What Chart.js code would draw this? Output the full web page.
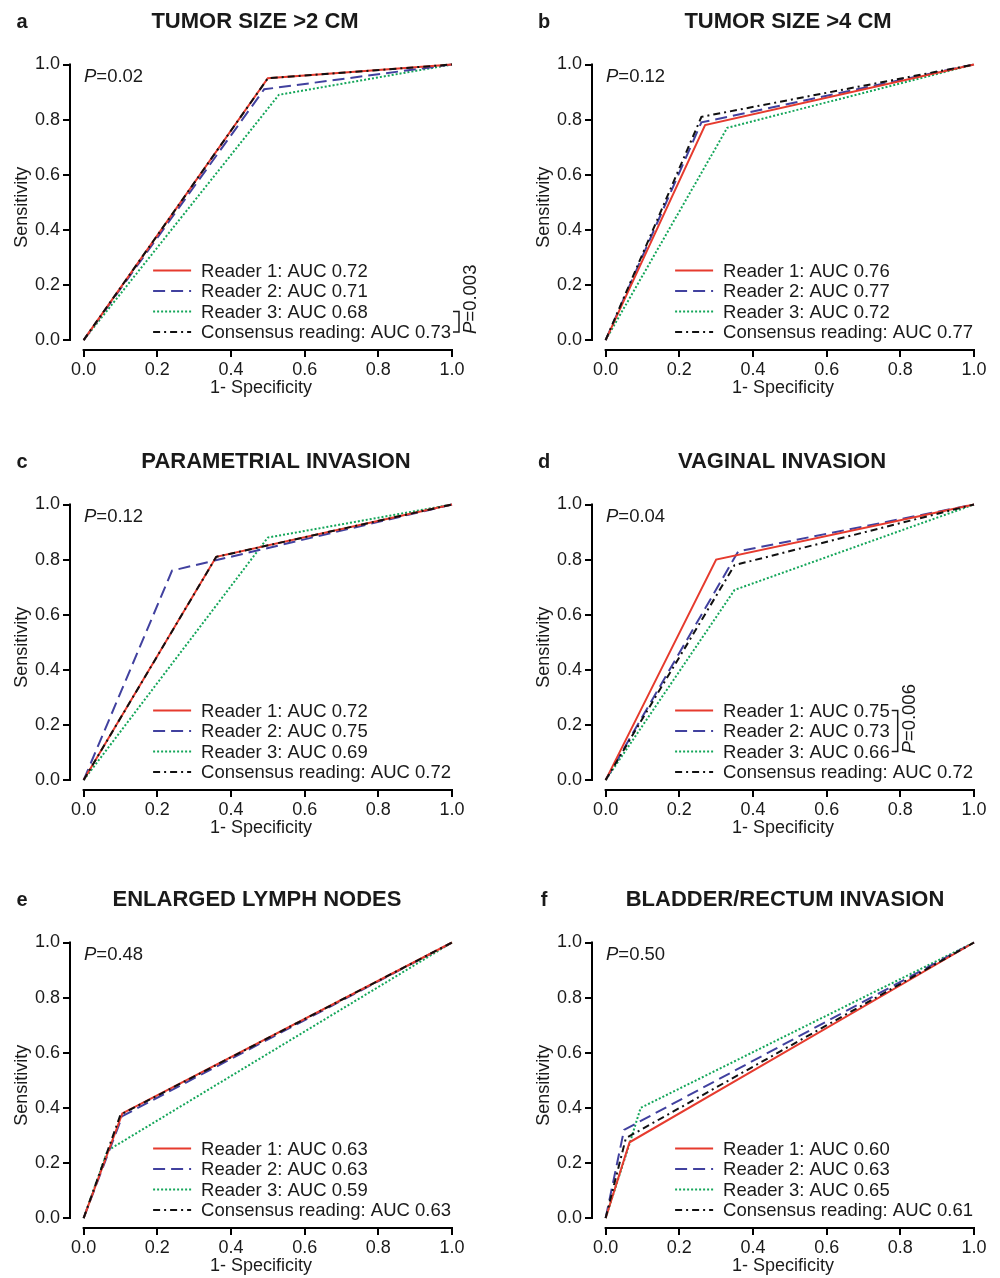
<!DOCTYPE html>
<html>
<head>
<meta charset="utf-8">
<title>ROC curves</title>
<script src="https://cdn.jsdelivr.net/npm/chart.js@4.4.1/dist/chart.umd.min.js"></script>
<style>
	body { margin: 0; background: #fff; }
	#wrap { position: relative; width: 1000px; height: 1278px; }
	#wrap canvas { position: absolute; }
</style>
</head>
<body>
<div id="wrap"></div>
<script>
/*------------data-------------------------------------------------------------------*/
const letters = ['a', 'b', 'c', 'd', 'e', 'f'];
const titles = ['TUMOR SIZE >2 CM', 'TUMOR SIZE >4 CM', 'PARAMETRIAL INVASION', 'VAGINAL INVASION', 'ENLARGED LYMPH NODES', 'BLADDER/RECTUM INVASION'];
const pValues = ['0.02', '0.12', '0.12', '0.04', '0.48', '0.50'];
const readers = ['Reader 1', 'Reader 2', 'Reader 3', 'Consensus reading'];
const aucValues = [
	[0.72, 0.71, 0.68, 0.73],
	[0.76, 0.77, 0.72, 0.77],
	[0.72, 0.75, 0.69, 0.72],
	[0.75, 0.73, 0.66, 0.72],
	[0.63, 0.63, 0.59, 0.63],
	[0.60, 0.63, 0.65, 0.61]
];
const tickValues = [0, 0.2, 0.4, 0.6, 0.8, 1.0];

// 1-specificity / sensitivity : reader 1, reader 2, reader 3, consensus
const fprA = [[0, 0.50, 1], [0, 0.49, 1], [0, 0.53, 1], [0, 0.50, 1]];
const tprA = [[0, 0.95, 1], [0, 0.91, 1], [0, 0.89, 1], [0, 0.95, 1]];
const fprB = [[0, 0.27, 1], [0, 0.26, 1], [0, 0.33, 1], [0, 0.26, 1]];
const tprB = [[0, 0.78, 1], [0, 0.79, 1], [0, 0.77, 1], [0, 0.81, 1]];
const fprC = [[0, 0.36, 1], [0, 0.24, 1], [0, 0.50, 1], [0, 0.36, 1]];
const tprC = [[0, 0.81, 1], [0, 0.76, 1], [0, 0.88, 1], [0, 0.81, 1]];
const fprD = [[0, 0.30, 1], [0, 0.36, 1], [0, 0.35, 1], [0, 0.35, 1]];
const tprD = [[0, 0.80, 1], [0, 0.83, 1], [0, 0.69, 1], [0, 0.78, 1]];
const fprE = [[0, 0.105, 1], [0, 0.105, 1], [0, 0.065, 1], [0, 0.10, 1]];
const tprE = [[0, 0.38, 1], [0, 0.37, 1], [0, 0.245, 1], [0, 0.375, 1]];
const fprF = [[0, 0.065, 1], [0, 0.05, 1], [0, 0.065, 0.095, 1], [0, 0.055, 1]];
const tprF = [[0, 0.275, 1], [0, 0.32, 1], [0, 0.27, 0.40, 1], [0, 0.29, 1]];

// pairwise P brackets next to the legend
const bracketPanel = [0, 3];
const bracketRows = [[2, 3], [0, 2]];
const bracketP = ['0.003', '0.006'];

/*------------style-------------------------------------------------------------------*/
const fam = '"Liberation Sans", Arial, Helvetica, sans-serif';
const textColor = '#1a1a1a';
const lineColors = ['#e63b2e', '#41419f', '#14a65a', '#111111'];
const lineDashes = [[], [12, 6], [2, 2], [7, 4, 2, 4]];
const drawOrder = [1, 2, 3, 0];

const fprAll = [fprA, fprB, fprC, fprD, fprE, fprF];
const tprAll = [tprA, tprB, tprC, tprD, tprE, tprF];

const rowTop = [0, 440, 878];
const rowHeight = [440, 438, 400];
const colLeft = [0, 500];
const axisLeft = [70, 92];
const plotRight = [452, 474];
const titleCenter = [255, 288, 276, 282, 257, 285];

/* 축선, 제목, 범례, P 값 */
const decorPlugin = {
	id: 'decor',
	afterDraw(chart, args, opts) {
		const ctx = chart.ctx;
		const area = chart.chartArea;
		const xs = chart.scales.x, ys = chart.scales.y;
		ctx.save();

		// offset axis lines (0 to 1 only)
		ctx.strokeStyle = '#000';
		ctx.lineWidth = 2;
		ctx.beginPath();
		ctx.moveTo(area.left, ys.getPixelForValue(1) - 1);
		ctx.lineTo(area.left, ys.getPixelForValue(0) + 1);
		ctx.moveTo(xs.getPixelForValue(0) - 1, area.bottom);
		ctx.lineTo(xs.getPixelForValue(1) + 1, area.bottom);
		ctx.stroke();

		// letter + title
		ctx.fillStyle = textColor;
		ctx.textAlign = 'center';
		ctx.textBaseline = 'alphabetic';
		ctx.font = 'bold 20px ' + fam;
		ctx.fillText(opts.letter, area.left - 48, 28);
		ctx.font = 'bold 22px ' + fam;
		ctx.fillText(opts.title, opts.titleX, 28);

		// P value top left
		ctx.textAlign = 'left';
		ctx.textBaseline = 'middle';
		ctx.font = 'italic 18.5px ' + fam;
		const px = area.left + 14, py = area.top + 12;
		ctx.fillText('P', px, py);
		const pw = ctx.measureText('P').width;
		ctx.font = '18.5px ' + fam;
		ctx.fillText('=' + opts.pText, px + pw, py);

		// legend inside plot, right aligned
		const sets = chart.data.datasets;
		const widths = sets.map(d => ctx.measureText(d.label).width);
		const maxW = Math.max(...widths);
		const textX = area.right - maxW - 1;
		const rowY = i => area.bottom - 18 - (sets.length - 1 - i) * 20.5;
		sets.forEach((ds, i) => {
			const y = rowY(i);
			ctx.setLineDash(ds.borderDash);
			ctx.strokeStyle = ds.borderColor;
			ctx.lineWidth = 2;
			ctx.beginPath();
			ctx.moveTo(textX - 48, y);
			ctx.lineTo(textX - 10, y);
			ctx.stroke();
			ctx.setLineDash([]);
			ctx.fillStyle = textColor;
			ctx.fillText(ds.label, textX, y + 1);
		});

		// bracket with rotated P
		if (opts.bracket) {
			const r = opts.bracket.rows;
			const end = textX + Math.max(...widths.slice(r[0], r[1] + 1));
			const x1 = end + 2, x2 = end + 8;
			const y0 = rowY(r[0]), y1 = rowY(r[1]);
			ctx.strokeStyle = textColor;
			ctx.lineWidth = 1.5;
			ctx.beginPath();
			ctx.moveTo(x1, y0);
			ctx.lineTo(x2, y0);
			ctx.lineTo(x2, y1);
			ctx.lineTo(x1, y1);
			ctx.stroke();
			ctx.translate(x2 + 12, y1 + 2);
			ctx.rotate(-Math.PI / 2);
			ctx.font = 'italic 18.5px ' + fam;
			ctx.fillText('P', 0, 0);
			const bw = ctx.measureText('P').width;
			ctx.font = '18.5px ' + fam;
			ctx.fillText('=' + opts.bracket.p, bw, 0);
		}
		ctx.restore();
	}
};

function axisOptions(min, titleText, col, isX) {
	const opt = {
		type: 'linear',
		min: min,
		max: 1,
		afterBuildTicks: s => { s.ticks = tickValues.map(v => ({ value: v })); },
		border: { display: false },
		grid: { drawOnChartArea: false, drawTicks: true, tickLength: 7, color: '#000', lineWidth: 2 },
		ticks: {
			padding: isX ? 2 : 3,
			autoSkip: false,
			maxRotation: 0,
			color: textColor,
			font: { size: 18, family: fam },
			callback: v => v.toFixed(1)
		},
		title: {
			display: true,
			text: titleText,
			color: textColor,
			font: { size: 18, family: fam }
		}
	};
	if (isX) {
		opt.afterFit = s => { s.height = 50; };
		opt.title.padding = { top: 0, bottom: 1 };
	} else {
		opt.afterFit = s => { s.width = axisLeft[col]; };
		opt.title.padding = { top: axisLeft[col] - 48 - 10.8, bottom: 0 };
	}
	return opt;
}

function makePanel(p) {
	const col = p % 2, row = Math.floor(p / 2);
	const canvas = document.createElement('canvas');
	canvas.width = 500;
	canvas.height = rowHeight[row];
	canvas.style.left = colLeft[col] + 'px';
	canvas.style.top = rowTop[row] + 'px';
	document.getElementById('wrap').appendChild(canvas);

	const datasets = readers.map((name, i) => ({
		label: name + ': AUC ' + aucValues[p][i].toFixed(2),
		data: fprAll[p][i].map((x, k) => ({ x: x, y: tprAll[p][i][k] })),
		showLine: true,
		borderColor: lineColors[i],
		borderDash: lineDashes[i],
		borderWidth: 2,
		pointRadius: 0,
		fill: false,
		clip: false,
		order: drawOrder[i]
	}));

	const b = bracketPanel.indexOf(p);

	const config = {
		type: 'scatter',
		data: { datasets: datasets },
		options: {
			responsive: false,
			animation: false,
			events: [],
			layout: {
				padding: { left: 0, top: 64.5, right: 500 - plotRight[col], bottom: rowHeight[row] - 400 }
			},
			scales: {
				x: axisOptions(-0.037, '1- Specificity', col, true),
				y: axisOptions(-0.036, 'Sensitivity', col, false)
			},
			plugins: {
				legend: { display: false },
				tooltip: { enabled: false },
				decor: {
					letter: letters[p],
					title: titles[p],
					titleX: titleCenter[p],
					pText: pValues[p],
					bracket: b >= 0 ? { rows: bracketRows[b], p: bracketP[b] } : null
				}
			}
		},
		plugins: [decorPlugin]
	};

	new Chart(canvas, config);
}

for (let p = 0; p < letters.length; p++) {
	makePanel(p);
}
</script>
</body>
</html>
